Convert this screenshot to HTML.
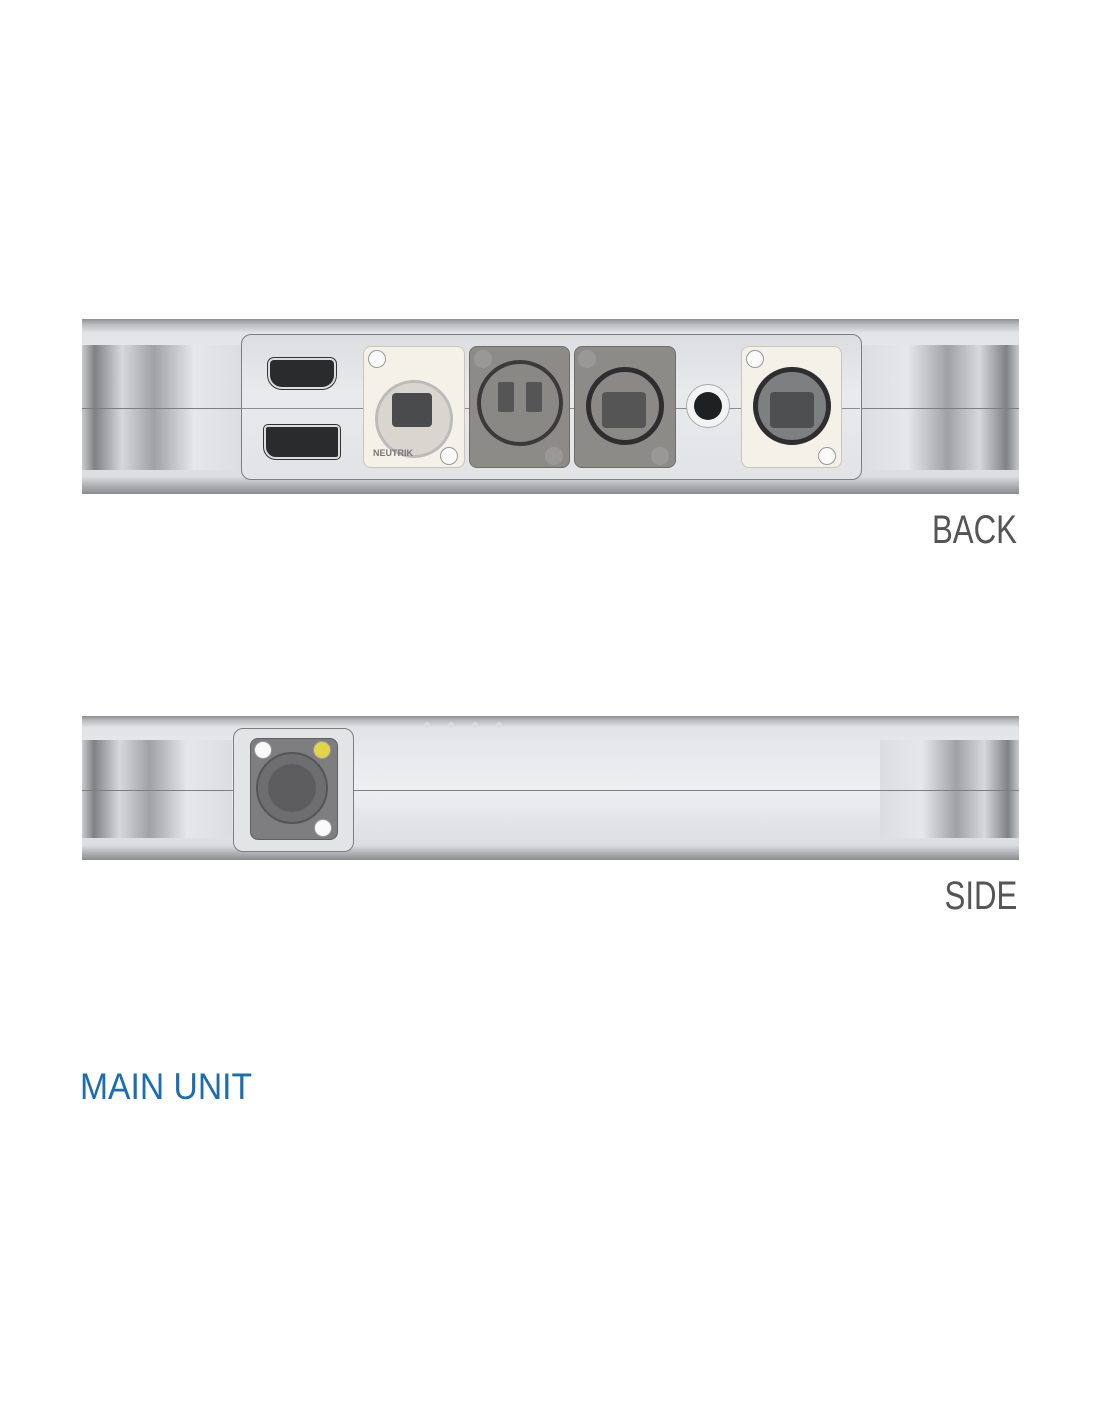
<!DOCTYPE html>
<html><head><style>
body{margin:0;background:#fff;width:1100px;height:1422px;position:relative;overflow:hidden;font-family:"Liberation Sans",sans-serif}
.a{position:absolute}
.dev{background:linear-gradient(#8e9095 0,#b8babe 3%,#e3e4e7 8%,#eeeff1 50%,#dcdde0 90%,#a9abaf 96%,#8a8c90 100%)}
.cap{background:linear-gradient(90deg,#c9cacd 0,#7f8185 8%,#d7d8db 25%,#9fa1a5 45%,#e6e7ea 70%,#dcdde0 100%)}
.capr{background:linear-gradient(270deg,#c9cacd 0,#7f8185 8%,#d7d8db 25%,#9fa1a5 45%,#e6e7ea 70%,#dcdde0 100%)}
.rec{background:linear-gradient(#dcdde0,#e9eaec 40%,#e2e3e6);border:1.5px solid #7b7d82;border-radius:10px}
.cream{background:#f4f2e8;border:1px solid #c9c6b8;border-radius:8px}
.grey{background:#8d8b88;border:1px solid #6f6d6a;border-radius:8px}
.scr{width:16px;height:16px;border-radius:50%;background:#fafafa;border:1px solid #999}
.rj{background:#4a4b4d;border-radius:4px}
.lbl{color:#555;font-size:40px;transform-origin:right top}
</style></head><body>

<!-- BACK -->
<div class="a dev" style="left:82px;top:319px;width:937px;height:175px"></div>
<div class="a cap" style="left:82px;top:345px;width:160px;height:125px"></div>
<div class="a capr" style="left:860px;top:345px;width:159px;height:125px"></div>
<div class="a" style="left:82px;top:408px;width:937px;height:1px;background:#7c7e82"></div>
<div class="a rec" style="left:241px;top:334px;width:619px;height:144px"></div>
<div class="a" style="left:242px;top:408px;width:618px;height:1px;background:#8a8c90"></div>
<!-- HDMI -->
<div class="a" style="left:268px;top:358px;width:64px;height:27px;background:#2a2b2d;border:2px solid #ddd;border-radius:6px 6px 14px 14px;box-shadow:0 0 0 1px #333"></div>
<div class="a" style="left:264px;top:425px;width:72px;height:30px;background:#2a2b2d;border:2px solid #ddd;border-radius:4px 4px 4px 12px;box-shadow:0 0 0 1px #333"></div>
<!-- plate 1 -->
<div class="a cream" style="left:363px;top:346px;width:100px;height:120px"></div>
<div class="a" style="left:375px;top:380px;width:72px;height:72px;border-radius:50%;background:#d8d6cf;border:3px solid #bbb"></div>
<div class="a rj" style="left:392px;top:393px;width:40px;height:34px"></div>
<div class="a scr" style="left:368px;top:350px"></div><div class="a scr" style="left:440px;top:447px"></div>
<div class="a" style="left:373px;top:448px;font-size:9px;font-weight:bold;color:#777">NEUTRIK</div>
<!-- plate 2 -->
<div class="a grey" style="left:469px;top:346px;width:99px;height:120px"></div>
<div class="a" style="left:477px;top:360px;width:86px;height:86px;border-radius:50%;background:#8a8885;border:4px solid #3a3a3b;box-sizing:border-box"></div>
<div class="a" style="left:498px;top:382px;width:16px;height:30px;background:#555;border-radius:2px"></div>
<div class="a" style="left:526px;top:382px;width:16px;height:30px;background:#555;border-radius:2px"></div>
<div class="a scr" style="left:474px;top:350px;background:#9a9896"></div><div class="a scr" style="left:545px;top:447px;background:#9a9896"></div>
<!-- plate 3 -->
<div class="a grey" style="left:574px;top:346px;width:100px;height:120px"></div>
<div class="a" style="left:586px;top:367px;width:78px;height:78px;border-radius:50%;background:#8b8986;border:5px solid #2e2e30;box-sizing:border-box"></div>
<div class="a rj" style="left:602px;top:392px;width:44px;height:36px;background:#555"></div>
<div class="a scr" style="left:578px;top:350px;background:#9a9896"></div><div class="a scr" style="left:651px;top:447px;background:#9a9896"></div>
<!-- mini round -->
<div class="a" style="left:686px;top:384px;width:44px;height:44px;border-radius:50%;background:#f3f3f3;border:1px solid #aaa;box-sizing:border-box"></div>
<div class="a" style="left:694px;top:392px;width:28px;height:28px;border-radius:50%;background:#1f2022"></div>
<!-- plate 4 -->
<div class="a cream" style="left:741px;top:346px;width:99px;height:120px"></div>
<div class="a" style="left:753px;top:367px;width:78px;height:78px;border-radius:50%;background:#7e7f81;border:5px solid #2e2e30;box-sizing:border-box"></div>
<div class="a rj" style="left:770px;top:392px;width:44px;height:36px;background:#4e4f51"></div>
<div class="a scr" style="left:746px;top:350px"></div><div class="a scr" style="left:818px;top:447px"></div>
<div class="a lbl" style="right:83px;top:508px;transform:scaleX(0.78)">BACK</div>

<!-- SIDE -->
<div class="a dev" style="left:82px;top:716px;width:937px;height:144px"></div>
<div class="a cap" style="left:82px;top:740px;width:150px;height:98px"></div>
<div class="a capr" style="left:880px;top:740px;width:139px;height:98px"></div>
<div class="a" style="left:82px;top:790px;width:937px;height:1px;background:#7c7e82"></div>
<div class="a rec" style="left:233px;top:728px;width:119px;height:122px;background:#e3e4e6"></div>
<div class="a" style="left:250px;top:738px;width:86px;height:100px;background:#7e7e80;border-radius:8px;border:1px solid #5f5f61"></div>
<div class="a" style="left:256px;top:752px;width:72px;height:72px;border-radius:50%;background:#6e6e70;border:2px solid #555;box-sizing:border-box"></div>
<div class="a" style="left:268px;top:764px;width:48px;height:48px;border-radius:50%;background:#5d5d5f"></div>
<div class="a scr" style="left:254px;top:741px"></div>
<div class="a scr" style="left:313px;top:741px;background:#e2d54a"></div>
<div class="a scr" style="left:314px;top:819px"></div>
<div class="a" style="left:424px;top:722px;width:6px;height:6px;border-radius:50%;background:#ddd"></div>
<div class="a" style="left:448px;top:722px;width:6px;height:6px;border-radius:50%;background:#ddd"></div>
<div class="a" style="left:472px;top:722px;width:6px;height:6px;border-radius:50%;background:#ddd"></div>
<div class="a" style="left:496px;top:722px;width:6px;height:6px;border-radius:50%;background:#ddd"></div>
<div class="a lbl" style="right:83px;top:874px;transform:scaleX(0.78)">SIDE</div>

<div class="a" style="left:80px;top:1066px;font-size:37px;color:#1a6db0;transform:scaleX(0.91);transform-origin:left top">MAIN UNIT</div>
</body></html>
